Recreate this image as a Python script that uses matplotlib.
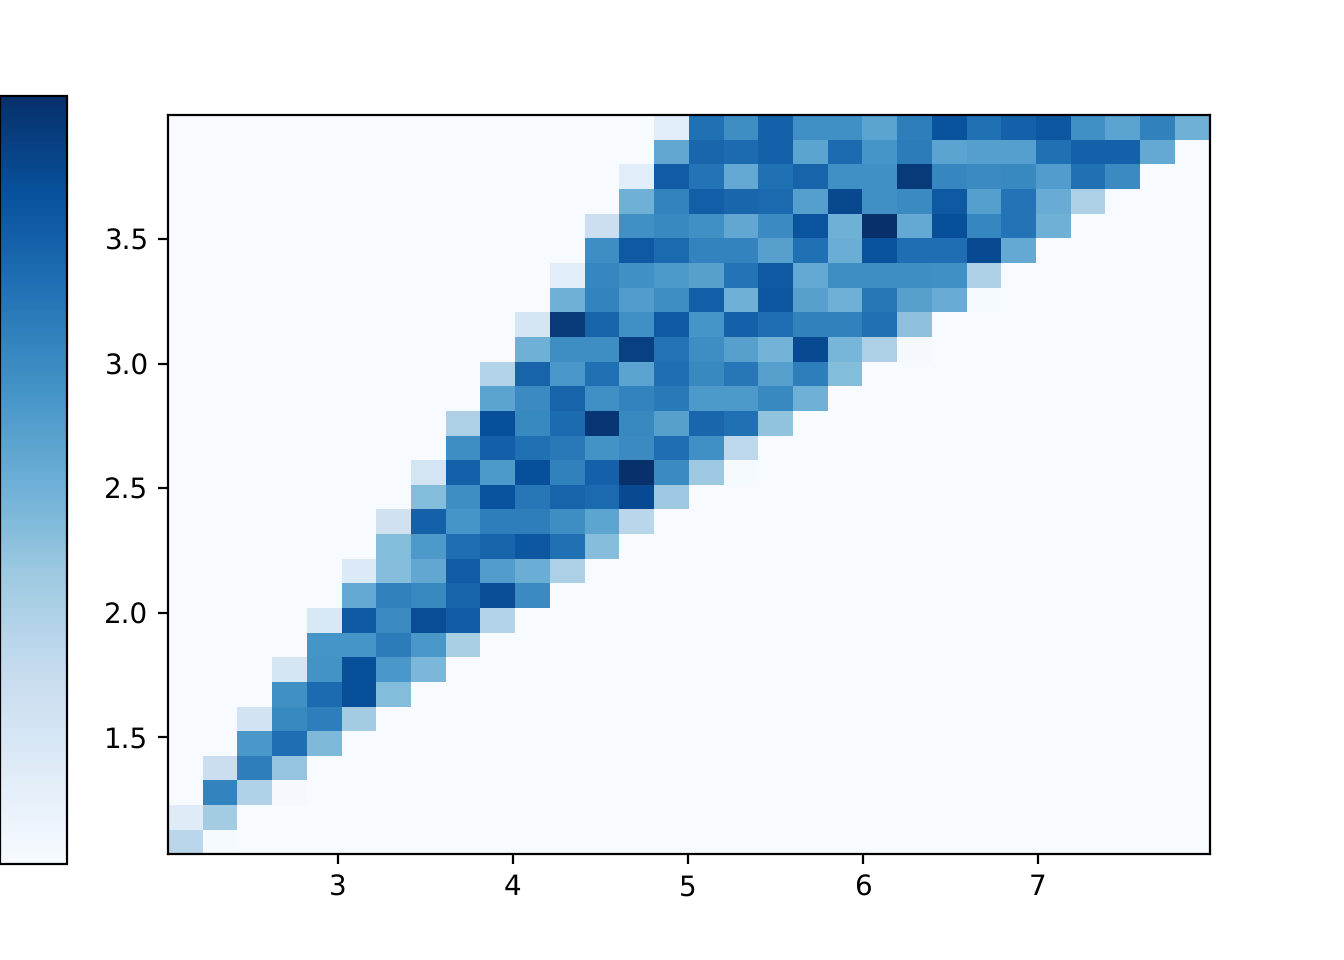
import numpy as np
import matplotlib
matplotlib.use("Agg")
import matplotlib.pyplot as plt

plt.rcParams["text.hinting"] = "none"

x_range = (2.029, 7.983)
y_range = (1.03, 3.998)
n_bins = 30
x_ticks = [3, 4, 5, 6, 7]
y_ticks = [1.5, 2.0, 2.5, 3.0, 3.5]

# first occupied column for each row, bottom row first
row_starts = [0, 0, 1, 1, 2, 2, 3, 3, 4, 4, 5, 5, 6, 6, 7, 7, 8, 8, 9, 9,
              10, 10, 11, 11, 12, 12, 13, 13, 14, 14]
# relative density of each occupied cell, bottom row first
row_values = [
    [.29, .01],
    [.12, .36],
    [.68, .32, .015],
    [.23, .70, .40],
    [.60, .76, .45],
    [.19, .66, .70, .36],
    [.63, .77, .88, .44],
    [.17, .62, .88, .60, .46],
    [.61, .61, .71, .60, .34],
    [.15, .84, .65, .89, .83, .31],
    [.52, .69, .66, .80, .89, .65],
    [.14, .43, .53, .83, .58, .50, .33],
    [.44, .59, .76, .80, .85, .75, .43],
    [.20, .81, .61, .70, .70, .64, .54, .29],
    [.44, .64, .87, .73, .80, .78, .90, .38],
    [.18, .81, .59, .88, .69, .81, 1.0, .65, .38, .01],
    [.64, .82, .75, .72, .62, .65, .76, .63, .28],
    [.33, .88, .66, .77, .98, .66, .56, .79, .75, .41],
    [.55, .65, .80, .63, .68, .72, .59, .59, .66, .49],
    [.31, .80, .60, .75, .55, .76, .66, .73, .56, .70, .44],
    [.49, .64, .64, .94, .74, .64, .56, .48, .90, .47, .33, .015],
    [.17, .96, .80, .63, .84, .61, .81, .76, .69, .69, .75, .42],
    [.49, .68, .58, .64, .82, .49, .85, .56, .49, .73, .56, .51, .01],
    [.11, .67, .63, .59, .56, .74, .84, .52, .64, .64, .64, .63, .33],
    [.64, .84, .78, .68, .68, .56, .75, .50, .87, .76, .76, .90, .52],
    [.22, .63, .66, .63, .53, .65, .86, .49, 1.0, .52, .88, .67, .74, .49],
    [.49, .68, .82, .79, .78, .57, .91, .63, .65, .84, .57, .74, .51, .33],
    [.11, .83, .74, .52, .75, .80, .63, .63, .96, .67, .65, .66, .58, .75, .65],
    [.53, .79, .77, .81, .55, .77, .61, .71, .55, .57, .57, .75, .81, .81, .52],
    [.11, .75, .64, .81, .63, .63, .55, .70, .87, .75, .81, .85, .63, .55, .69, .49],
]

density = np.zeros((n_bins, n_bins))
for j, (start, vals) in enumerate(zip(row_starts, row_values)):
    density[j, start:start + len(vals)] = vals

x_edges = np.linspace(*x_range, n_bins + 1)
y_edges = np.linspace(*y_range, n_bins + 1)

fig = plt.figure(figsize=(6.72, 4.8), dpi=200)
ax = fig.add_subplot(111)
mesh = ax.pcolormesh(x_edges, y_edges, density, cmap="Blues", vmin=0, vmax=1)
ax.set_xticks(x_ticks)
ax.set_yticks(y_ticks)

cax = fig.add_axes([0, 0.1, 0.05, 0.8])
cbar = fig.colorbar(mesh, cax=cax)
cbar.set_ticks([])

fig.savefig("out.png", dpi=200)
